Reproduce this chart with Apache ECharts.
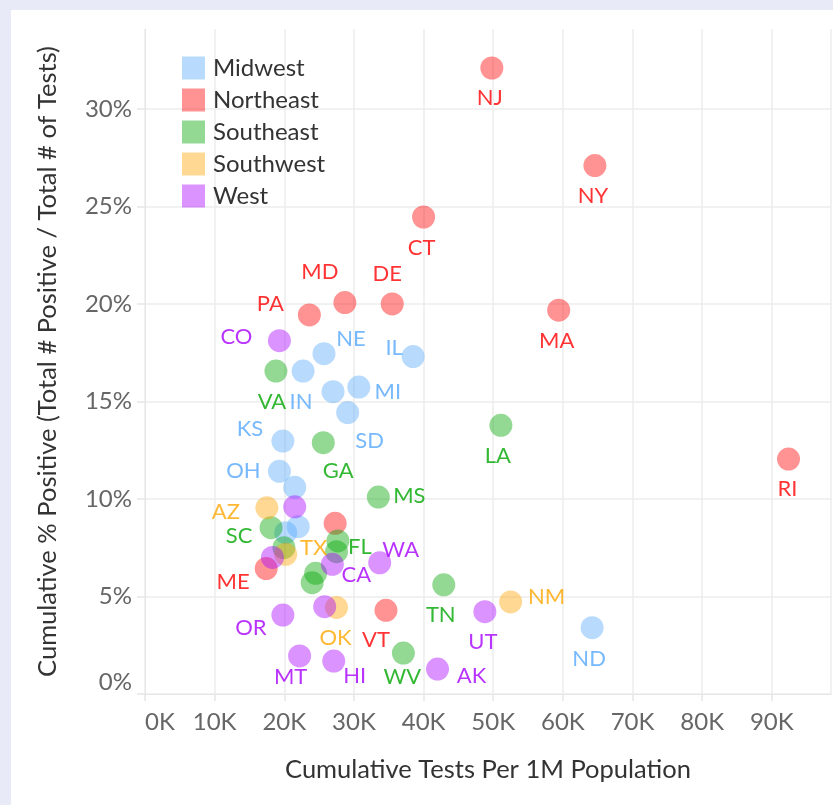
<!DOCTYPE html>
<html>
<head>
<meta charset="utf-8">
<script src="https://cdn.jsdelivr.net/npm/echarts@6/dist/echarts.min.js"></script>
<style>
  html, body { margin: 0; padding: 0; background: #e8eaf8; }
  #panel { position: absolute; left: 11px; top: 10px; width: 822px; height: 795px; background: #ffffff; }
  #chart { position: absolute; left: 0; top: 0; width: 833px; height: 805px; }
</style>
</head>
<body>
<div id="panel"></div>
<div id="chart"></div>
<script>
// ---- data ----
const regions = ["Midwest", "Northeast", "Southeast", "Southwest", "West"];
const regionColors = ["#55a7fb", "#ff0000", "#00a600", "#ffa600", "#a800ff"];

const states = [
  "OH","KS","IN","NE","IL","MI","SD","ND","WI","MN","IA","MO",
  "NJ","NY","CT","MA","RI","MD","DE","PA","ME","VT","NH",
  "VA","GA","LA","MS","SC","FL","TN","WV","AL","NC","KY","AR",
  "AZ","TX","OK","NM",
  "CO","WA","CA","OR","MT","HI","UT","AK","NV","ID","WY"
];
const stateRegion = [
  "Midwest","Midwest","Midwest","Midwest","Midwest","Midwest","Midwest","Midwest","Midwest","Midwest","Midwest","Midwest",
  "Northeast","Northeast","Northeast","Northeast","Northeast","Northeast","Northeast","Northeast","Northeast","Northeast","Northeast",
  "Southeast","Southeast","Southeast","Southeast","Southeast","Southeast","Southeast","Southeast","Southeast","Southeast","Southeast","Southeast",
  "Southwest","Southwest","Southwest","Southwest",
  "West","West","West","West","West","West","West","West","West","West","West"
];
// Cumulative tests per 1M population
const testsPer1M = [
  19300,19800,22700,25700,38500,30700,29100,64200,27000,21500,22000,20200,
  49800,64600,40000,59400,92400,28700,35500,23600,17400,34600,27300,
  18800,25600,51100,33500,18100,27700,42900,37100,27500,19950,24500,24000,
  17500,20200,27500,52500,
  19300,33700,26900,19800,22200,27100,48800,42000,21500,18300,25800
];
// Cumulative % positive
const pctPositive = [
  11.42,12.97,16.56,17.45,17.30,15.74,14.43,3.40,15.50,10.60,8.58,8.27,
  32.10,27.10,24.46,19.68,12.05,20.07,20.00,19.44,6.43,4.29,8.75,
  16.56,12.89,13.78,10.10,8.53,7.85,5.60,2.10,7.30,7.50,6.19,5.71,
  9.55,7.16,4.44,4.72,
  18.12,6.73,6.65,4.05,1.95,1.69,4.22,1.28,9.60,7.00,4.48
];
const xTicks = ["0K","10K","20K","30K","40K","50K","60K","70K","80K","90K"];
const yTicks = ["0%","5%","10%","15%","20%","25%","30%"];

// ---- label placement (offset of label centre from the point, px) ----
const labelOffsets = {
  NJ:[-2,30], NY:[-2,30], MA:[-2,31], RI:[-1,30], LA:[-3,31], CT:[-2,31],
  MS:[31,-1], WA:[21,-13], TN:[-3,30], VT:[-10,30], NM:[36,-5], UT:[-2,30],
  ND:[-3,31], WV:[-1,24], AK:[34,7], MD:[-25,-31], DE:[-5,-30], PA:[-39,-11],
  CO:[-43,-4], NE:[27,-15], IL:[-19,-9], VA:[-4,31], IN:[-2,31], MI:[29,5],
  SD:[22,28], KS:[-33,-12], GA:[15,28], OH:[-36,0], AZ:[-41,4], SC:[-32,8],
  TX:[28,-6], FL:[22,6], CA:[24,11], ME:[-33,13], OR:[-32,13], OK:[-1,30],
  MT:[-9,21], HI:[21,15]
};

function hexToRgba(hex, a) {
  const r = parseInt(hex.slice(1,3),16), g = parseInt(hex.slice(3,5),16), b = parseInt(hex.slice(5,7),16);
  return `rgba(${r},${g},${b},${a})`;
}

const FONT = 'Lato';
const series = regions.map((reg, ri) => {
  const data = [];
  states.forEach((s, i) => {
    if (stateRegion[i] !== reg) return;
    const off = labelOffsets[s];
    const item = { name: s, value: [testsPer1M[i], pctPositive[i]] };
    if (off) {
      item.label = { show: true, position: 'inside', offset: off };
    } else {
      item.label = { show: false };
    }
    data.push(item);
  });
  return {
    name: reg,
    type: 'scatter',
    symbol: 'circle',
    symbolSize: 23,
    itemStyle: { color: hexToRgba(regionColors[ri], 0.53) },
    label: {
      show: false,
      formatter: '{b}',
      color: regionColors[ri],
      fontFamily: FONT,
      fontSize: 22
    },
    emphasis: { disabled: true },
    data: data
  };
});

const chart = echarts.init(document.getElementById('chart'), null, { renderer: 'canvas' });
chart.setOption({
  animation: false,
  backgroundColor: 'transparent',
  grid: { left: 145, right: 2, top: 29, bottom: 111, containLabel: false },
  legend: {
    orient: 'vertical',
    left: 182, top: 56, padding: 0,
    icon: 'rect',
    itemWidth: 23, itemHeight: 23, itemGap: 8,
    textStyle: { fontFamily: FONT, fontSize: 24, color: '#333333', padding: [0,0,0,3] },
    data: regions
  },
  xAxis: {
    type: 'value',
    min: 0, max: 98500, interval: 10000,
    name: 'Cumulative Tests Per 1M Population',
    nameLocation: 'middle', nameGap: 63,
    nameTextStyle: { fontFamily: FONT, fontSize: 25.5, color: '#333333' },
    axisLine: { show: true, lineStyle: { color: '#e6e6e6', width: 1 } },
    axisTick: { show: true, length: 7, lineStyle: { color: '#e6e6e6', width: 1.5 } },
    splitLine: { show: true, lineStyle: { color: '#ededed', width: 1.5 } },
    axisLabel: {
      fontFamily: FONT, fontSize: 24, color: '#666666', margin: 16,
      alignMinLabel: 'left', showMaxLabel: false,
      formatter: v => xTicks[Math.round(v / 10000)] || ''
    }
  },
  yAxis: {
    type: 'value',
    min: 0, max: 34.1, interval: 5,
    name: 'Cumulative % Positive (Total # Positive / Total # of Tests)',
    nameLocation: 'middle', nameGap: 84, nameRotate: 90,
    nameTextStyle: { fontFamily: FONT, fontSize: 25.5, color: '#333333' },
    axisLine: { show: true, lineStyle: { color: '#e6e6e6', width: 1 } },
    axisTick: { show: true, length: 8, lineStyle: { color: '#e6e6e6', width: 1.5 } },
    splitLine: { show: true, showMaxLine: false, lineStyle: { color: '#ededed', width: 1.5 } },
    axisLabel: {
      fontFamily: FONT, fontSize: 24, color: '#666666', margin: 13,
      verticalAlignMinLabel: 'bottom', showMaxLabel: false,
      formatter: v => yTicks[Math.round(v / 5)] || ''
    }
  },
  series: series
});
</script>
</body>
</html>
